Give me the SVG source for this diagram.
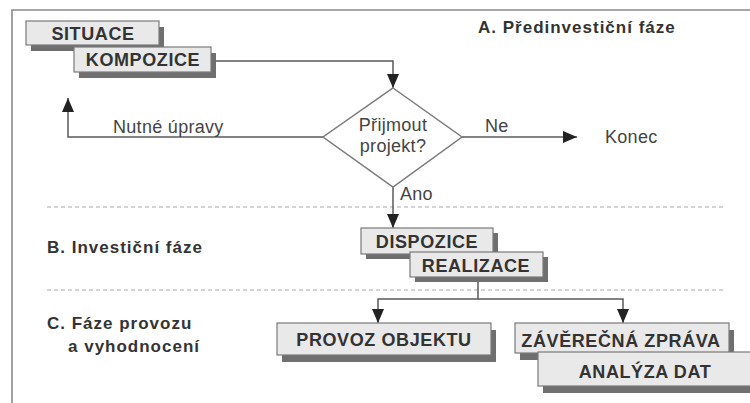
<svg xmlns="http://www.w3.org/2000/svg" width="750" height="403" viewBox="0 0 750 403">
<defs>
<style>
.box{fill:#e9e9e9;stroke:#7a7a7a;stroke-width:1.2}
.sh{fill:#6f6f6f}
.bt{font-family:"Liberation Sans",Arial,sans-serif;font-weight:bold;font-size:18px;fill:#333;text-anchor:middle;letter-spacing:0.6px}
.ph{font-family:"Liberation Sans",Arial,sans-serif;font-weight:bold;font-size:17px;fill:#333;letter-spacing:1px}
.lb{font-family:"Liberation Sans",Arial,sans-serif;font-size:18px;fill:#444;letter-spacing:0.3px}
.cn{fill:none;stroke:#5a5a5a;stroke-width:1.5}
.dash{stroke:#aaa;stroke-width:1.2;stroke-dasharray:4 3}
.frame{fill:none;stroke:#8a8a8a;stroke-width:1.6}
</style>
<marker id="ah" viewBox="0 0 14 12" refX="14" refY="6" markerWidth="14" markerHeight="12" markerUnits="userSpaceOnUse" orient="auto">
<path d="M0,0 L14,6 L0,12 z" fill="#222"/>
</marker>
</defs>
<rect width="750" height="403" fill="#fff"/>
<path class="frame" d="M12,403 V10 H750"/>
<g id="separators">
<line class="dash" x1="47" y1="207" x2="726" y2="207"/>
<line class="dash" x1="47" y1="290" x2="726" y2="290"/>
</g>
<g id="phases">
<text class="ph" x="478" y="33">A. Předinvestiční fáze</text>
<text class="ph" x="47" y="253">B. Investiční fáze</text>
<text class="ph" x="47" y="329">C. Fáze provozu</text>
<text class="ph" x="68" y="352">a vyhodnocení</text>
</g>
<g id="connectors">
<path class="cn" d="M216,61 H393 V88" marker-end="url(#ah)"/>
<path class="cn" d="M323,137 H68 V98" marker-end="url(#ah)"/>
<path class="cn" d="M462,137 H577" marker-end="url(#ah)"/>
<path class="cn" d="M393,187 V228" marker-end="url(#ah)"/>
<path class="cn" d="M478,282 V299 H378 V323" marker-end="url(#ah)"/>
<path class="cn" d="M478,299 H623 V323" marker-end="url(#ah)"/>
<text class="lb" x="113" y="133">Nutné úpravy</text>
<text class="lb" x="485" y="132">Ne</text>
<text class="lb" x="400" y="200">Ano</text>
</g>
<g id="situace">
<rect class="sh" x="31" y="27" width="133" height="24"/>
<rect class="box" x="26" y="21" width="133" height="24"/>
<text class="bt" x="93" y="40">SITUACE</text>
</g>
<g id="kompozice">
<rect class="sh" x="79" y="53" width="137" height="25"/>
<rect class="box" x="74" y="47" width="137" height="25"/>
<text class="bt" x="143" y="66">KOMPOZICE</text>
</g>
<g id="decision">
<polygon points="393,88 462,137 393,187 323,137" fill="#fff" stroke="#7a7a7a" stroke-width="1.5"/>
<text class="lb" x="393" y="131" text-anchor="middle">Přijmout</text>
<text class="lb" x="393" y="152" text-anchor="middle">projekt?</text>
</g>
<g id="konec">
<text class="lb" x="605" y="143">Konec</text>
</g>
<g id="dispozice">
<rect class="sh" x="366" y="233" width="132" height="26"/>
<rect class="box" x="361" y="228" width="132" height="26"/>
<text class="bt" x="427" y="248">DISPOZICE</text>
</g>
<g id="realizace">
<rect class="sh" x="415" y="257" width="133" height="25"/>
<rect class="box" x="410" y="252" width="133" height="25"/>
<text class="bt" x="476" y="272">REALIZACE</text>
</g>
<g id="provoz">
<rect class="sh" x="282" y="330" width="214" height="32"/>
<rect class="box" x="277" y="323" width="214" height="32"/>
<text class="bt" x="384" y="346">PROVOZ OBJEKTU</text>
</g>
<g id="zaverecna">
<rect class="sh" x="520" y="330" width="214" height="30"/>
<rect class="box" x="515" y="323" width="214" height="30"/>
<text class="bt" x="621" y="347">ZÁVĚREČNÁ ZPRÁVA</text>
</g>
<g id="analyza">
<rect class="sh" x="543" y="359" width="214" height="34"/>
<rect class="box" x="538" y="352" width="214" height="34"/>
<text class="bt" x="645" y="378">ANALÝZA DAT</text>
</g>
</svg>
